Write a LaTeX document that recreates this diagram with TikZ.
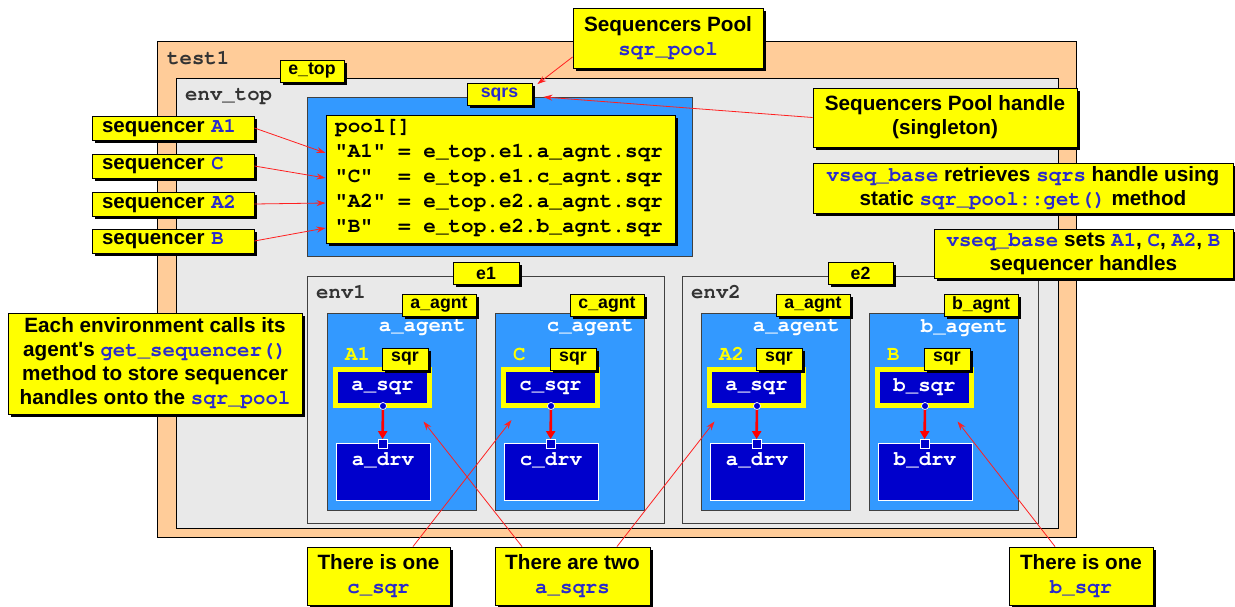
\documentclass[tikz,border=0pt]{standalone}
\usepackage{fontspec}
\setmainfont{Liberation Sans}
\setmonofont{texgyrecursor}[Extension=.otf, UprightFont=*-regular, BoldFont=*-bold]
\usetikzlibrary{shadows,arrows.meta,calc}

\definecolor{peach}{HTML}{FFCC99}
\definecolor{envgray}{HTML}{E9E9E9}
\definecolor{agentblue}{HTML}{3399FF}
\definecolor{sqrnavy}{HTML}{0000CC}
\definecolor{noteyellow}{HTML}{FFFF00}
\definecolor{codeblue}{HTML}{2A2ACC}
\definecolor{linkred}{HTML}{FF2020}
\definecolor{edgegray}{HTML}{404040}
\definecolor{titlegray}{HTML}{333333}

\newcommand\cde[1]{{\ttfamily\color{codeblue}#1}}

\tikzset{
  shadowed/.style={drop shadow={shadow xshift=3pt, shadow yshift=-3pt, fill=black, opacity=1}},
  yellowbox/.style={draw=black, fill=noteyellow, line width=0.9pt, shadowed, inner sep=0pt},
  tag/.style={yellowbox, font=\fontsize{17.7}{20}\selectfont\bfseries, minimum height=22},
  note/.style={yellowbox, font=\fontsize{20.7}{24}\selectfont\bfseries, align=center},
  seqtag/.style={yellowbox, font=\fontsize{20.5}{24}\selectfont\bfseries, minimum height=24,
                 text width=142, inner xsep=10, align=left},
  envbox/.style={draw=edgegray, fill=envgray, line width=0.9pt, inner sep=0pt},
  agentbox/.style={draw=edgegray, fill=agentblue, line width=0.9pt, inner sep=0pt},
  monotxt/.style={font=\fontsize{20.7}{24}\selectfont\ttfamily\bfseries, inner sep=0pt},
  pooltxt/.style={font=\fontsize{21}{25}\selectfont\ttfamily\bfseries, inner sep=0pt},
  sqrbox/.style={draw=noteyellow, fill=sqrnavy, line width=5pt, minimum width=94,
                 minimum height=36, inner sep=0pt, text=white,
                 font=\fontsize{20.7}{24}\selectfont\ttfamily\bfseries},
  drvbox/.style={draw=white, fill=sqrnavy, line width=0.9pt, minimum width=94,
                 minimum height=57, inner sep=0pt},
  port/.style={draw=white, fill=sqrnavy, line width=0.7pt, inner sep=0pt},
  link/.style={draw=linkred, line width=0.8pt, -{Stealth[length=9pt,width=6pt]}},
  bind/.style={draw=red, line width=2.6pt, -{Triangle[length=8pt,width=9pt]}},
  % one agent: #1 = name letter, #2 = sequencer handle name
  pics/agent/.style 2 args={code={
    \node[agentbox, minimum width=149, minimum height=197] (-box) at (74.5,98.5) {};
    \node[monotxt, text=white, anchor=east] (-name) at (139,15) {#1\_agent};
    \node[monotxt, text=noteyellow, anchor=west] (-hdl) at (18,41) {#2};
    \node[sqrbox] (-sqr) at (55.5,74.5) {#1\_sqr};
    \node[tag, minimum width=46] (-sqrtag) at (78,46) {sqr};
    \node[drvbox] (-drv) at (56,158.5) {};
    \node[monotxt, text=white] (-drvname) at (56,147) {#1\_drv};
    \node[port, circle, minimum size=7] (-out) at (56,93) {};
    \node[port, minimum size=9] (-in) at (55.5,131) {};
    \draw[bind] (-out) -- (-in);
    \node[tag, minimum width=74] (-tag) at (112,-8) {#1\_agnt};
  }},
}

\begin{document}
\begin{tikzpicture}[x=1pt,y=-1pt]
\useasboundingbox (0,0) rectangle (1235,607);
\fill[white] (0,0) rectangle (1235,607);

% test and top environment
\node[envbox, draw=black, fill=peach, minimum width=919, minimum height=496] (test1) at (616.5,289) {};
\node[monotxt, text=titlegray, anchor=west] (test1name) at (167,58) {test1};
\node[envbox, draw=black, minimum width=882, minimum height=450] (envtop) at (617,303) {};
\node[monotxt, text=titlegray, anchor=west] (envtopname) at (185,97) {env\_top};
\node[tag, minimum width=64] (etop) at (312,71) {e\_top};

% sequencer pool
\node[agentbox, minimum width=385, minimum height=159] (sqrs) at (499.5,176.5) {};
\node[tag, text=codeblue, minimum width=65] (sqrstag) at (499.5,94.5) {sqrs};
\node[yellowbox, minimum width=349, minimum height=128] (pool) at (500.5,179) {};
\node[pooltxt, anchor=west] (l0) at (335,128) {pool[]};
\node[pooltxt, anchor=west] (l1) at (335,153) {"A1"~=~e\_top.e1.a\_agnt.sqr};
\node[pooltxt, anchor=west] (l2) at (335,178) {"C"~~=~e\_top.e1.c\_agnt.sqr};
\node[pooltxt, anchor=west] (l3) at (335,203) {"A2"~=~e\_top.e2.a\_agnt.sqr};
\node[pooltxt, anchor=west] (l4) at (335,228) {"B"~~=~e\_top.e2.b\_agnt.sqr};

% environment e1
\node[envbox, minimum width=357, minimum height=247] (e1) at (485.5,399.5) {};
\node[monotxt, text=titlegray, anchor=west] (env1name) at (316,292) {env1};
\node[tag, minimum width=66] (e1tag) at (486,273) {e1};
\pic (ag1) at (327,313) {agent={a}{A1}};
\pic (ag2) at (495,313) {agent={c}{C}};

% environment e2
\node[envbox, minimum width=356, minimum height=247] (e2) at (860,399.5) {};
\node[monotxt, text=titlegray, anchor=west] (env2name) at (691,292) {env2};
\node[tag, minimum width=65] (e2tag) at (860.5,273) {e2};
\pic (ag3) at (701,313) {agent={a}{A2}};
\pic (ag4) at (869,313) {agent={b}{B}};

% sequencer handles
\node[seqtag] (sA1) at (173,128) {sequencer \cde{A1}};
\node[seqtag] (sC)  at (173,166) {sequencer \cde{C}};
\node[seqtag] (sA2) at (173,204) {sequencer \cde{A2}};
\node[seqtag] (sB)  at (173,241) {sequencer \cde{B}};

% notes
\node[note, minimum width=190, minimum height=60] (spool) at (668,38) {Sequencers Pool\\\cde{sqr\_pool}};
\node[note, minimum width=264, minimum height=59] (handle) at (945,117.5) {Sequencers Pool handle\\(singleton)};
\node[note, minimum width=420, minimum height=50] (getnote) at (1023,188)
  {\cde{vseq\_base} retrieves \cde{sqrs} handle using\\static \cde{sqr\_pool::get()} method};
\node[note, minimum width=299, minimum height=49] (setnote) at (1083.5,253.5)
  {\cde{vseq\_base} sets \cde{A1}, \cde{C}, \cde{A2}, \cde{B}\\sequencer handles};
\node[note, minimum width=294, minimum height=101] (envnote) at (155,363.5)
  {Each environment calls its\\agent\textquotesingle s \cde{get\_sequencer()}\\method to store sequencer\\handles onto the \cde{sqr\_pool}};
\node[note, minimum width=143, minimum height=58] (oneC) at (378.5,576) {There is one\\\cde{c\_sqr}};
\node[note, minimum width=155, minimum height=58] (twoA) at (572.5,576) {There are two\\\cde{a\_sqrs}};
\node[note, minimum width=144, minimum height=58] (oneB) at (1081,576) {There is one\\\cde{b\_sqr}};

% pointers
\draw[link] ([yshift=-19pt]spool.west) -- ([xshift=5pt,yshift=-1pt]sqrstag.north east);
\draw[link] (handle.west) -- ([xshift=11pt,yshift=-2.5pt]sqrstag.east);
\draw[link] (sA1.east) -- (pool.west |- l1);
\draw[link] (sC.east) -- (pool.west |- l2);
\draw[link] (sA2.east) -- (pool.west |- l3);
\draw[link] (sB.east) -- (pool.west |- l4);

\coordinate (tipA1) at ([xshift=-8.5pt,yshift=-13.5pt]ag1-sqr.south east);
\coordinate (tipC)  at ([xshift=10.5pt,yshift=-12pt]ag2-sqr.south west);
\coordinate (tipA2) at ([xshift=7.5pt,yshift=-13.5pt]ag3-sqr.south west);
\coordinate (tipB)  at ([xshift=-16.5pt,yshift=-13.5pt]ag4-sqr.south east);
\draw[link] ([xshift=34.5pt]oneC.north) -- (tipC);
\draw[link] ([xshift=-50.5pt]twoA.north) -- (tipA1);
\draw[link] ([xshift=44.5pt]twoA.north) -- (tipA2);
\draw[link] ([xshift=-26pt]oneB.north) -- (tipB);
\end{tikzpicture}
\end{document}
